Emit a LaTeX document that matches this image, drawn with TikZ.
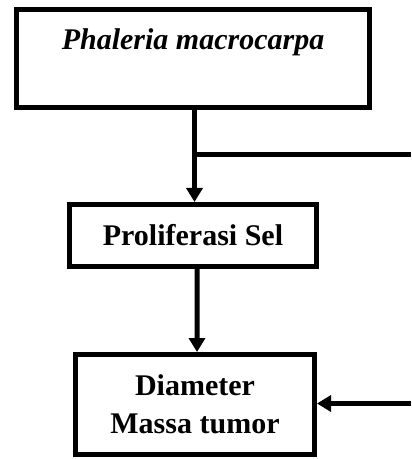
\documentclass[tikz,border=0pt]{standalone}
\usepackage{fontspec}
\setmainfont{Liberation Serif}
\usetikzlibrary{arrows.meta}

\tikzset{
  kotak/.style={draw, line width=5bp, rectangle, inner sep=0pt, align=center,
    font=\fontsize{30bp}{38bp}\selectfont\bfseries},
  panah/.style={line width=5bp, -{Triangle[width=16bp,length=14bp]}},
}

\begin{document}
\begin{tikzpicture}[x=1bp, y=-1bp]
    \useasboundingbox (0,0) rectangle (411,459);

    % Boîtes
    \node[kotak, minimum width=353bp, minimum height=98bp] (tanaman) at (193,58.5) {};
    \node[font=\fontsize{30bp}{38bp}\selectfont\bfseries\itshape, anchor=base] (tanamanteks) at (193,50) {Phaleria macrocarpa};
    \node[kotak, minimum width=247bp, minimum height=62bp] (proliferasi) at (193,235.5) {Proliferasi Sel};
    \node[kotak, minimum width=239bp, minimum height=100bp] (tumor) at (195,404.5) {Diameter\\Massa tumor};

    % Points libres
    \coordinate (simpang) at (194.5,154.5);
    \coordinate (tepiatas) at (411,154.5);
    \coordinate (tepibawah) at (411,403.5);

    % Flèches
    \draw[panah] (tanaman.south -| simpang) -- (proliferasi.north -| simpang);
    \draw[line width=5bp] (simpang) -- (tepiatas);
    \draw[panah] ([xshift=4bp]proliferasi.south) -- ([xshift=2bp]tumor.north);
    \draw[panah] (tepibawah) -- (tumor.east |- tepibawah);
\end{tikzpicture}
\end{document}
